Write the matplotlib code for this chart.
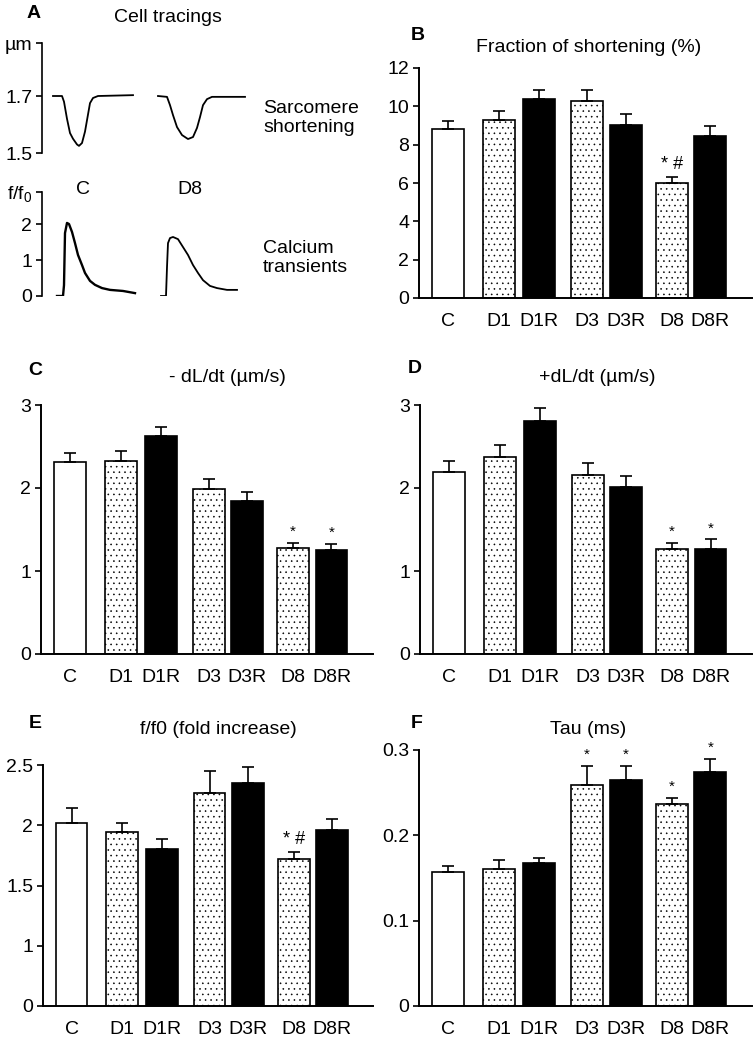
import numpy as np
import matplotlib
matplotlib.use('Agg')
import matplotlib.pyplot as plt

plt.rcParams['font.family'] = ['Liberation Sans', 'DejaVu Sans']
plt.rcParams['font.size'] = 14
plt.rcParams['hatch.linewidth'] = 0.4
plt.rcParams['mathtext.fontset'] = 'custom'
plt.rcParams['mathtext.rm'] = 'Liberation Sans'
plt.rcParams['mathtext.it'] = 'Liberation Sans:italic'

# ---- data ----
groups = ['C', 'D1', 'D1R', 'D3', 'D3R', 'D8', 'D8R']

# panel A traces (time in arbitrary units)
sarc_c_t = [0, 9, 11, 14, 17, 20, 24, 26, 29, 32, 35, 37, 40, 45, 80]
sarc_c_v = [1.70, 1.70, 1.68, 1.62, 1.57, 1.55, 1.53, 1.525, 1.535, 1.575,
            1.635, 1.675, 1.693, 1.70, 1.703]
sarc_d8_t = [0, 9, 12, 15, 19, 24, 30, 35, 39, 42, 45, 49, 54, 87]
sarc_d8_v = [1.70, 1.697, 1.668, 1.633, 1.591, 1.563, 1.549, 1.556, 1.588,
             1.626, 1.668, 1.689, 1.697, 1.697]
ca_c_t = [0, 6, 7, 8, 10, 12, 15, 18, 21, 25, 28, 33, 38, 45, 53, 66, 78]
ca_c_v = [0, 0, 0.3, 1.75, 2.03, 2.0, 1.78, 1.47, 1.14, 0.86, 0.64, 0.42,
          0.31, 0.22, 0.17, 0.14, 0.08]
ca_d8_t = [0, 5, 6, 7, 9, 12, 17, 22, 27, 32, 37, 42, 49, 56, 66, 76]
ca_d8_v = [0, 0, 0.8, 1.47, 1.61, 1.64, 1.58, 1.36, 1.14, 0.86, 0.64, 0.44,
           0.28, 0.22, 0.17, 0.17]

# panel B: fraction of shortening (%)
fs_mean = [8.8, 9.27, 10.37, 10.28, 9.04, 6.0, 8.43]
fs_sem = [0.42, 0.48, 0.46, 0.56, 0.54, 0.33, 0.56]
fs_marks = {'D8': '* #'}

# panel C: -dL/dt
neg_mean = [2.31, 2.32, 2.63, 1.99, 1.84, 1.28, 1.25]
neg_sem = [0.11, 0.13, 0.10, 0.12, 0.11, 0.06, 0.07]
neg_marks = {'D8': '*', 'D8R': '*'}

# panel D: +dL/dt
pos_mean = [2.19, 2.37, 2.81, 2.16, 2.01, 1.27, 1.27]
pos_sem = [0.13, 0.15, 0.15, 0.14, 0.13, 0.07, 0.11]
pos_marks = {'D8': '*', 'D8R': '*'}

# panel E: f/f0
ff_mean = [2.02, 1.94, 1.80, 2.27, 2.35, 1.72, 1.96]
ff_sem = [0.12, 0.08, 0.09, 0.18, 0.13, 0.06, 0.09]
ff_marks = {'D8': '* #'}

# panel F: tau
tau_mean = [0.157, 0.160, 0.167, 0.259, 0.265, 0.237, 0.274]
tau_sem = [0.007, 0.011, 0.007, 0.022, 0.016, 0.007, 0.015]
tau_marks = {'D3': '*', 'D3R': '*', 'D8': '*', 'D8R': '*'}

# ---- layout / style ----
xpos = [0, 1.6, 2.85, 4.35, 5.55, 7.0, 8.2]
fills = ['white', 'white', 'black', 'white', 'black', 'white', 'black']
hatches = [None, '...', None, '...', None, '...', None]

W, H = 756, 1040
fig = plt.figure(figsize=(W / 100, H / 100), dpi=100)


def add_ax(left, top, right, bottom):
    return fig.add_axes([left / W, 1 - bottom / H, (right - left) / W, (bottom - top) / H])


def ftext(x, y, s, **kw):
    fig.text(x / W, 1 - y / H, s, **kw)


def bar_panel(ax, means, sems, ylim, yticks, yticklabels, marks):
    for i in range(len(groups)):
        ax.bar(xpos[i], means[i], width=1.0, color=fills[i], edgecolor='black',
               linewidth=1.2, hatch=hatches[i], zorder=2)
    ax.errorbar(xpos, means, yerr=[np.zeros(len(means)), sems], fmt='none',
                ecolor='black', elinewidth=1.2, capsize=4, capthick=1.2, zorder=3)
    for g, s in marks.items():
        i = groups.index(g)
        fs = 13 if '#' in s else 11
        ax.annotate(s, (xpos[i], means[i] + sems[i]), xytext=(0, 3),
                    textcoords='offset points', ha='center', va='bottom',
                    fontsize=fs, annotation_clip=False)
    ax.set_xlim(-0.9, 9.5)
    ax.set_ylim(*ylim)
    ax.set_xticks(xpos)
    ax.set_xticklabels(groups)
    ax.set_yticks(yticks)
    ax.set_yticklabels(yticklabels)
    for sp in ['top', 'right']:
        ax.spines[sp].set_visible(False)
    for sp in ['left', 'bottom']:
        ax.spines[sp].set_linewidth(1.4)
    ax.tick_params(axis='x', length=0, pad=11, labelsize=14)
    ax.tick_params(axis='y', length=4, width=1.2, pad=3, labelsize=14)


# ---- panel A ----
ax_s = add_ax(42, 43, 250, 153)
ax_s.plot(sarc_c_t, sarc_c_v, color='black', lw=1.3)
ax_s.plot(np.array(sarc_d8_t) + 105, sarc_d8_v, color='black', lw=1.3)
ax_s.set_xlim(-11, 197)
ax_s.set_ylim(1.5, 1.886)
ax_s.set_yticks([1.5, 1.7, 1.886])
ax_s.set_yticklabels(['1.5', '1.7', 'µm'])

ax_c = add_ax(42, 192, 250, 296)
ax_c.plot(ca_c_t, ca_c_v, color='black', lw=1.7)
ax_c.plot(np.array(ca_d8_t) + 104, ca_d8_v, color='black', lw=1.3)
ax_c.set_xlim(-15, 193)
ax_c.set_ylim(0, 2.89)
ax_c.set_yticks([0, 1, 2, 2.89])
ax_c.set_yticklabels(['0', '1', '2', r'f/f$_\mathrm{0}$'])

for ax in (ax_s, ax_c):
    for sp in ['top', 'right', 'bottom']:
        ax.spines[sp].set_visible(False)
    ax.spines['left'].set_linewidth(1.2)
    ax.set_xticks([])
    ax.tick_params(axis='y', length=4, width=1.2, pad=3, labelsize=14)

ftext(34, 13, 'A', fontsize=14, fontweight='bold', ha='center', va='center')
ftext(168, 17, 'Cell tracings', fontsize=14, ha='center', va='center')
ftext(263, 118, 'Sarcomere\nshortening', fontsize=14, ha='left', va='center', linespacing=1.2)
ftext(263, 258, 'Calcium\ntransients', fontsize=14, ha='left', va='center', linespacing=1.2)
ftext(83, 189, 'C', fontsize=14, ha='center', va='center')
ftext(190, 189, 'D8', fontsize=14, ha='center', va='center')

# ---- panel B ----
ax_b = add_ax(419, 68, 752, 298)
bar_panel(ax_b, fs_mean, fs_sem, (0, 12), [0, 2, 4, 6, 8, 10, 12],
          ['0', '2', '4', '6', '8', '10', '12'], fs_marks)
ftext(418, 36, 'B', fontsize=14, fontweight='bold', ha='center', va='center')
ftext(589, 47, 'Fraction of shortening (%)', fontsize=14, ha='center', va='center')

# ---- panel C ----
ax_cc = add_ax(41, 405, 373, 654)
bar_panel(ax_cc, neg_mean, neg_sem, (0, 3), [0, 1, 2, 3], ['0', '1', '2', '3'], neg_marks)
ftext(35, 370, 'C', fontsize=14, fontweight='bold', ha='center', va='center')
ftext(227, 378, '- dL/dt (µm/s)', fontsize=14, ha='center', va='center')

# ---- panel D ----
ax_d = add_ax(420, 405, 752, 654)
bar_panel(ax_d, pos_mean, pos_sem, (0, 3), [0, 1, 2, 3], ['0', '1', '2', '3'], pos_marks)
ftext(415, 368, 'D', fontsize=14, fontweight='bold', ha='center', va='center')
ftext(597, 377, '+dL/dt (µm/s)', fontsize=14, ha='center', va='center')

# ---- panel E (axis drawn with a break: bottom tick stands for 0) ----
ax_e = add_ax(43, 765, 373, 1006)
bar_panel(ax_e, ff_mean, ff_sem, (0.5, 2.5), [0.5, 1, 1.5, 2, 2.5],
          ['0', '1', '1.5', '2', '2.5'], ff_marks)
ftext(35, 723, 'E', fontsize=14, fontweight='bold', ha='center', va='center')
ftext(218, 730, 'f/f0 (fold increase)', fontsize=14, ha='center', va='center')

# ---- panel F ----
ax_f = add_ax(419, 750, 752, 1006)
bar_panel(ax_f, tau_mean, tau_sem, (0, 0.3), [0, 0.1, 0.2, 0.3],
          ['0', '0.1', '0.2', '0.3'], tau_marks)
ftext(417, 723, 'F', fontsize=14, fontweight='bold', ha='center', va='center')
ftext(588, 730, 'Tau (ms)', fontsize=14, ha='center', va='center')

fig.savefig('out.png', dpi=100)
